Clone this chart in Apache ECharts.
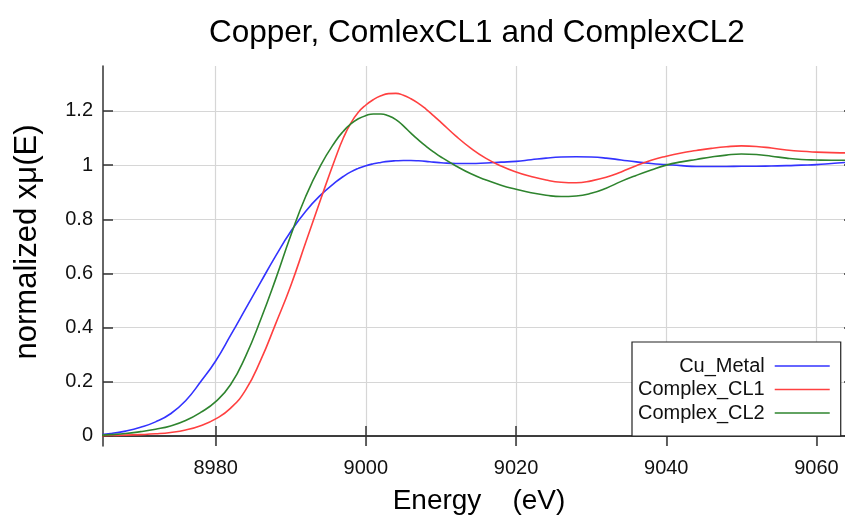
<!DOCTYPE html>
<html>
<head>
<meta charset="utf-8">
<script src="https://cdn.jsdelivr.net/npm/echarts@6/dist/echarts.min.js"></script>
<style>html,body{margin:0;padding:0;background:#fff;overflow:hidden;}#c{width:845px;height:515px;}</style>
</head>
<body>
<div id="c"></div>
<script>
const energy = [8964,8966,8968,8970,8972,8974,8976,8978,8980,8982,8984,8986,8988,8990,8992,8994,8996,8997,8998,8999,9000,9001,9002,9003,9004,9005,9006,9007,9008,9009,9010,9012,9014,9016,9018,9020,9022,9024,9026,9028,9030,9032,9034,9036,9038,9040,9042,9044,9046,9048,9050,9052,9054,9056,9058,9060,9062,9064,9066];
const cuMetal = [0.004,0.009,0.018,0.032,0.052,0.082,0.130,0.200,0.277,0.372,0.470,0.568,0.665,0.755,0.830,0.890,0.938,0.958,0.975,0.988,0.998,1.005,1.010,1.014,1.016,1.017,1.017,1.016,1.014,1.011,1.009,1.006,1.006,1.008,1.011,1.014,1.020,1.026,1.030,1.031,1.030,1.026,1.019,1.012,1.006,1.002,0.998,0.995,0.995,0.995,0.996,0.996,0.997,0.998,1.000,1.002,1.006,1.010,1.013];
const complexCL1 = [0.001,0.002,0.003,0.005,0.008,0.013,0.022,0.038,0.063,0.103,0.170,0.280,0.415,0.555,0.715,0.875,1.030,1.100,1.155,1.195,1.222,1.242,1.256,1.264,1.265,1.258,1.245,1.228,1.207,1.183,1.158,1.107,1.062,1.025,0.997,0.975,0.958,0.945,0.937,0.935,0.942,0.955,0.975,0.998,1.018,1.033,1.045,1.054,1.062,1.068,1.071,1.069,1.063,1.056,1.051,1.048,1.046,1.045,1.044];
const complexCL2 = [0.002,0.005,0.009,0.016,0.025,0.037,0.057,0.087,0.127,0.190,0.295,0.430,0.580,0.740,0.885,1.000,1.090,1.125,1.152,1.171,1.183,1.189,1.189,1.182,1.168,1.145,1.118,1.093,1.070,1.049,1.030,0.997,0.968,0.945,0.926,0.911,0.898,0.889,0.884,0.886,0.896,0.915,0.940,0.962,0.982,1.000,1.012,1.021,1.030,1.037,1.041,1.039,1.033,1.026,1.021,1.019,1.018,1.018,1.018];
const xTicks = [8980,9000,9020,9040,9060];
const yTicks = [0,0.2,0.4,0.6,0.8,1,1.2];
const seriesNames = ['Cu_Metal','Complex_CL1','Complex_CL2'];
const seriesColors = ['#3333ff','#ff4040','#2e842e'];

const FONT = '"Liberation Sans", Arial, sans-serif';
const chart = echarts.init(document.getElementById('c'), null, {renderer:'canvas'});
const pairs = a => energy.map((e,i)=>[e,a[i]]);
const dataSets = [cuMetal, complexCL1, complexCL2];

const axisLine = {show:true, lineStyle:{color:'#333', width:1.5}};
const tick = {show:true, inside:true, length:10, lineStyle:{color:'#333', width:1.5}};
const split = {show:true, lineStyle:{color:'#d6d6d6', width:1.2}};

chart.setOption({
  animation:false,
  backgroundColor:'#fff',
  title:{text:'Copper, ComlexCL1 and ComplexCL2', left:204, top:12,
    textStyle:{fontFamily:FONT, fontSize:31.5, fontWeight:'normal', color:'#000'}},
  grid:{left:103, width:751, top:66, height:380, containLabel:false, outerBoundsMode:'none'},
  legend:{
    orient:'vertical', left:632, top:342, align:'right',
    data:seriesNames,
    backgroundColor:'#fff', borderColor:'#222', borderWidth:1.2,
    padding:[14,11,13,6], itemGap:3.5, itemWidth:55, itemHeight:20,
    icon:'path://M0,9.25 L55,9.25 L55,10.75 L0,10.75 Z',
    formatter: n => '{a|' + n + '}',
    textStyle:{fontFamily:FONT, fontSize:20, color:'#111',
      rich:{a:{width:128, padding:[0,5,0,0], align:'right', fontFamily:FONT, fontSize:20, color:'#111'}}}
  },
  xAxis:[{
    type:'value', min:8965, max:9065, position:'bottom',
    axisLine:axisLine,
    axisTick:Object.assign({customValues:xTicks}, tick),
    axisLabel:{customValues:xTicks, fontFamily:FONT, fontSize:20, color:'#111', margin:12,
      formatter: v => String(v)},
    splitLine:split
  },{
    type:'value', min:8965, max:9065, position:'top',
    axisLine:axisLine,
    axisTick:Object.assign({customValues:xTicks}, tick),
    axisLabel:{show:false}, splitLine:{show:false}
  }],
  yAxis:[{
    type:'value', min:-0.037, max:1.366, position:'left',
    axisLine:axisLine,
    axisTick:Object.assign({customValues:yTicks}, tick),
    axisLabel:{customValues:yTicks, fontFamily:FONT, fontSize:20, color:'#111', margin:10,
      formatter: v => String(Math.round(v*10)/10)},
    splitLine:split
  },{
    type:'value', min:-0.037, max:1.366, position:'right',
    axisLine:axisLine,
    axisTick:Object.assign({customValues:yTicks}, tick),
    axisLabel:{show:false}, splitLine:{show:false}
  }],
  graphic:[
    {type:'text', x:27, y:242, rotation:Math.PI/2,
      style:{text:'normalized xμ(E)', fontFamily:FONT, fontSize:31, fill:'#000', align:'center', verticalAlign:'middle'}},
    {type:'text', x:479, y:501,
      style:{text:'Energy    (eV)', fontFamily:FONT, fontSize:28, fill:'#000', align:'center', verticalAlign:'middle'}}
  ],
  series: seriesNames.map((n,i)=>({
    name:n, type:'line', data:pairs(dataSets[i]), smooth:0.5, showSymbol:false,
    lineStyle:{color:seriesColors[i], width:1.6}, itemStyle:{color:seriesColors[i]},
    clip:true, z:3
  }))
});
</script>
</body>
</html>
